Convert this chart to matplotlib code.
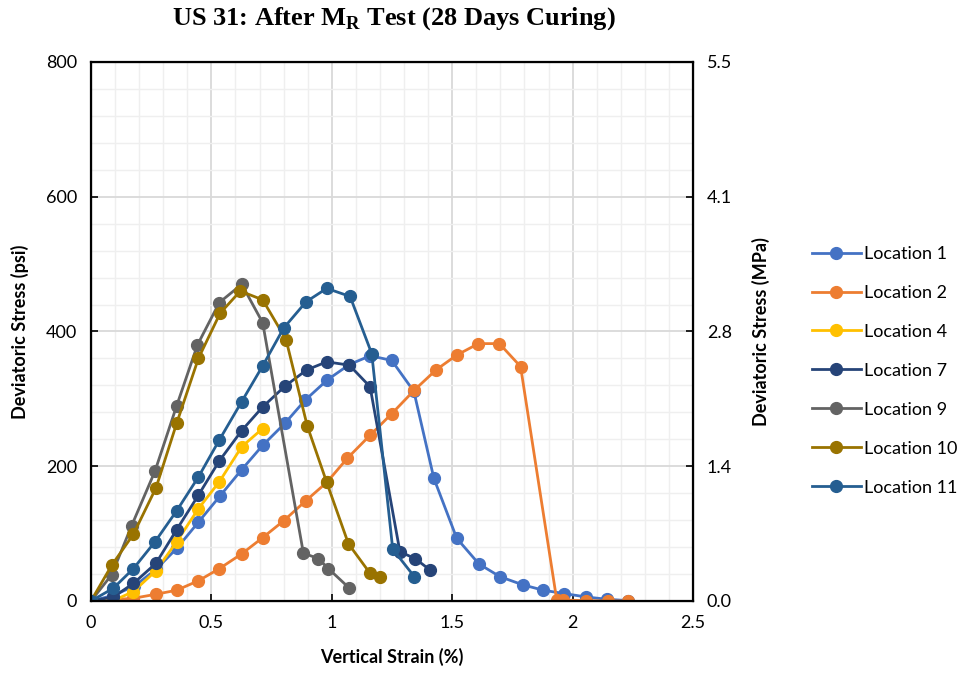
import numpy as np
import matplotlib.pyplot as plt
from matplotlib.ticker import MultipleLocator, FixedLocator, FixedFormatter

# strain (%) and deviatoric stress (psi)
loc1_x = [0, 0.09, 0.18, 0.27, 0.356, 0.446, 0.536, 0.626, 0.713, 0.806, 0.889, 0.981, 1.073, 1.16, 1.249, 1.341,
          1.424, 1.519, 1.611, 1.699, 1.793, 1.878, 1.965, 2.056, 2.144, 2.231]
loc1_y = [0, 8, 22, 47, 78, 117, 156, 195, 231, 264, 298, 328, 351, 364, 357, 311,
          182, 93, 55, 36, 24, 16, 11, 6, 2.5, 0.5]

loc2_x = [0, 0.09, 0.176, 0.27, 0.356, 0.446, 0.533, 0.626, 0.713, 0.80, 0.893, 0.979, 1.065, 1.159, 1.249, 1.343,
          1.433, 1.519, 1.609, 1.696, 1.784, 1.934, 1.96, 2.056, 2.148, 2.231]
loc2_y = [0, 2, 4, 10, 16, 30, 48, 70, 94, 119, 149, 176, 212, 246, 278, 313,
          343, 365, 382, 382, 348, 2, 1.5, 0.5, 0, 0]

loc4_x = [0, 0.09, 0.176, 0.27, 0.356, 0.446, 0.533, 0.626, 0.713]
loc4_y = [0, 0, 14, 45, 88, 137, 177, 229, 256]

loc7_x = [0, 0.093, 0.176, 0.27, 0.356, 0.446, 0.533, 0.626, 0.713, 0.806, 0.896, 0.979, 1.073, 1.159,
          1.283, 1.346, 1.408]
loc7_y = [0, 6, 26, 56, 106, 157, 208, 253, 288, 319, 343, 355, 350, 318,
          73, 63, 46]

loc9_x = [0, 0.086, 0.169, 0.266, 0.356, 0.442, 0.533, 0.626, 0.713, 0.882, 0.944, 0.986, 1.073]
loc9_y = [0, 39, 112, 193, 290, 380, 443, 470, 413, 71, 63, 48, 19]

loc10_x = [0, 0.086, 0.176, 0.27, 0.356, 0.446, 0.536, 0.62, 0.713, 0.81, 0.898, 0.979, 1.069, 1.159, 1.2]
loc10_y = [0, 53, 99, 168, 264, 360, 427, 460, 447, 388, 260, 176, 85, 41, 36]

loc11_x = [0, 0.093, 0.176, 0.266, 0.356, 0.446, 0.533, 0.626, 0.713, 0.80, 0.893, 0.979, 1.076, 1.166,
           1.253, 1.343]
loc11_y = [0, 19, 48, 88, 134, 184, 239, 296, 349, 405, 444, 464, 452, 367,
           77, 36]

names = ["Location 1", "Location 2", "Location 4", "Location 7", "Location 9", "Location 10", "Location 11"]
xs = [loc1_x, loc2_x, loc4_x, loc7_x, loc9_x, loc10_x, loc11_x]
ys = [loc1_y, loc2_y, loc4_y, loc7_y, loc9_y, loc10_y, loc11_y]
colors = ["#4472C4", "#ED7D31", "#FFC000", "#264478", "#636363", "#997300", "#255E91"]

mpa_ticks = [0, 1.375, 2.75, 4.125, 5.5]
mpa_labels = ["0.0", "1.4", "2.8", "4.1", "5.5"]

plt.rcParams['font.family'] = ['Lato', 'DejaVu Sans']

fig = plt.figure(figsize=(9.63, 6.79), dpi=100)
ax = fig.add_axes([0.0945, 0.1149, 0.6251, 0.7938])

for x, y, c, n in zip(xs, ys, colors, names):
    ax.plot(x, y, color=c, lw=2.0, marker='o', ms=8.5, label=n)

ax.set_xlim(0, 2.5)
ax.set_ylim(0, 800)
ax.xaxis.set_minor_locator(MultipleLocator(0.1))
ax.yaxis.set_major_locator(MultipleLocator(200))
ax.yaxis.set_minor_locator(MultipleLocator(40))
ax.set_xticks([0, 0.5, 1, 1.5, 2, 2.5])
ax.set_xticklabels(["0", "0.5", "1", "1.5", "2", "2.5"])
ax.grid(which='major', color='#d9d9d9', lw=1.3)
ax.grid(which='minor', color='#efefef', lw=1.0)
ax.set_axisbelow(True)
ax.tick_params(which='major', direction='in', length=5, width=1.2, labelsize=13, colors='black', pad=10)
ax.tick_params(which='minor', length=0)
for s in ax.spines.values():
    s.set_linewidth(1.6)
ax.set_xlabel("Vertical Strain (%)", fontsize=13, fontweight='bold', labelpad=12)
ax.set_ylabel("Deviatoric Stress (psi)", fontsize=13, fontweight='bold', labelpad=12)

ax2 = ax.twinx()
ax2.set_ylim(0, 5.5)
ax2.yaxis.set_major_locator(FixedLocator(mpa_ticks))
ax2.yaxis.set_major_formatter(FixedFormatter(mpa_labels))
ax2.tick_params(direction='in', length=5, width=1.2, labelsize=13, pad=10)
ax2.set_ylabel("Deviatoric Stress (MPa)", fontsize=13, fontweight='bold', labelpad=14)

fig.text(0.409, 0.972, "US 31: After M$_\\mathregular{R}$ Test (28 Days Curing)", ha='center', va='center',
         fontsize=19, fontweight='bold', family='Liberation Serif')

h, l = ax.get_legend_handles_labels()
fig.legend(h, l, loc='center left', bbox_to_anchor=(0.843, 0.454), frameon=False, fontsize=13,
           labelspacing=1.27, handlelength=2.7, handletextpad=0.2, borderpad=0, borderaxespad=0)

fig.savefig("out.png", dpi=100)
